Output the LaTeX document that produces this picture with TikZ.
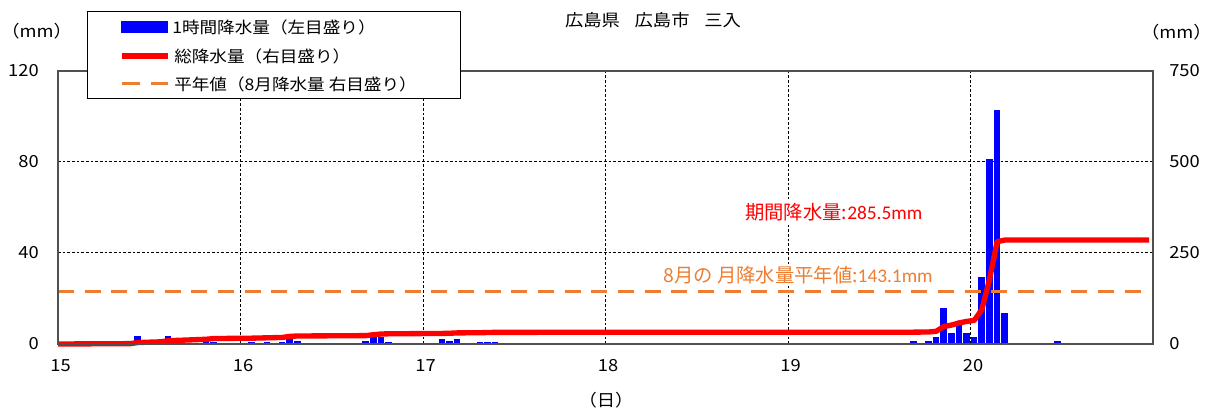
\documentclass[tikz,border=0pt]{standalone}
\usepackage{fontspec}
\setmainfont{Noto Sans CJK JP}[FakeStretch=1.1]
\newfontfamily\notefont{Noto Sans CJK JP}
\newfontfamily\numfont{Carlito}
\usetikzlibrary{positioning}

\definecolor{rainblue}{RGB}{0,0,255}
\definecolor{totalred}{RGB}{255,0,0}
\definecolor{normalorange}{RGB}{237,125,49}
\definecolor{axisgray}{RGB}{80,80,80}

\tikzset{
  gridline/.style={line width=0.75pt, dash pattern=on 2pt off 1.5pt},
  frameline/.style={axisgray, line width=1pt},
  rainbar/.style={fill=rainblue},
  totalline/.style={totalred, line width=4pt, line join=round},
  normalline/.style={normalorange, line width=2.25pt, dash pattern=on 12pt off 8pt},
  ticktext/.style={font=\fontsize{12.5}{14}\selectfont, inner sep=0pt},
  legtext/.style={font=\fontsize{12}{14}\selectfont, inner sep=0pt, anchor=west},
  notetext/.style={font=\notefont\fontsize{14.5}{16}\selectfont, fill=white, inner sep=1.5pt, anchor=west}
}

\begin{document}
\begin{tikzpicture}[x=0.75pt, y=0.75pt]
  \pgfmathsetmacro{\dayw}{182.5}
  \pgfmathsetmacro{\leftmm}{2.275}
  \pgfmathsetmacro{\rightmm}{0.364}

  \useasboundingbox (0,0) rectangle (1213,414);

  \coordinate (O) at (58,70);
  \coordinate (TL) at (58,343);
  \coordinate (BR) at (1153,70);
  \coordinate (TR) at (1153,343);

  % grid
  \foreach \d in {1,...,5}
    \draw[gridline] ({58+\d*\dayw},70) -- ({58+\d*\dayw},343);
  \foreach \v in {40,80}
    \draw[gridline] (58,{70+\v*\leftmm}) -- (1153,{70+\v*\leftmm});

  % hourly rain, left scale
  \begin{scope}[shift={(O)}, x=5.703pt, y=1.70625pt]
    \foreach \h/\v in {9/1, 10/3.5, 13/1.5, 14/3.5, 19/2.5, 20/1, 25/1, 27/1,
        29/1, 30/4.5, 31/1.5, 40/1.5, 41/3, 42/3, 43/1, 50/2, 51/1.5, 52/2,
        55/1, 56/1, 57/1, 112/1.5, 114/1.5, 115/3, 116/16, 117/5, 118/8.5,
        119/5, 120/3, 121/29.5, 122/81.5, 123/103, 124/13.5, 131/1.5}
      \fill[rainbar] (\h+0.04,0) rectangle (\h+0.9,\v);
  \end{scope}

  % totals, right scale
  \begin{scope}[shift={(O)}, x=5.703pt, y=0.273pt]
    \coordinate (n0) at (0,143.1);
    \coordinate (n1) at (143.1,143.1);
    \draw[normalline] (n0) -- (n1);
    \draw[totalline] plot coordinates {(0,0) (9.5,1) (10.5,4) (13.5,6)
      (14.5,9) (19.5,13) (20.5,15) (25.5,16) (27.5,17) (29.5,18) (30.5,21)
      (31.5,22) (40.5,23) (41.5,25.5) (42.5,27.5) (43.5,28) (50.5,29)
      (51.5,29.5) (52.5,30.5) (55.5,31) (56.5,31.5) (57.5,32) (112.5,32.5)
      (114.5,33) (115.5,35) (116.5,48) (117.5,52) (118.5,58) (119.5,62)
      (120.5,65) (121.5,95) (122.5,177) (123.5,281) (124.5,285.5)
      (143.5,285.5)};
  \end{scope}

  \draw[frameline] (TL) -- (O) -- (BR) -- (TR) -- cycle;

  % axis labels
  \foreach \v in {0,40,80,120}
    \node[ticktext, anchor=east] (yl\v) at (39,{70+\v*\leftmm}) {\v};
  \foreach \v in {0,250,500,750}
    \node[ticktext, anchor=west] (yr\v) at (1169,{70+\v*\rightmm}) {\v};
  \foreach \d in {15,...,20}
    \node[ticktext] (xl\d) at ({58+(\d-15)*\dayw+2.5},48) {\d};
  \node[ticktext, anchor=west] (yunitl) at (1,383) {（mm）};
  \node[ticktext, anchor=east] (yunitr) at (1212,382) {（mm）};
  \node[ticktext] (xunit) at (606,14) {（日）};
  \node[ticktext] (title) at (653,394) {広島県\hspace{11pt}広島市\hspace{11pt}三入};

  % notes
  \node[notetext, text=totalred] (totalnote) at (743,202)
    {期間降水量:{\numfont 285.5mm}};
  \node[notetext, text=normalorange] (normalnote) at (661,139)
    {8月の 月降水量平年値:{\numfont 143.1mm}};

  % legend
  \node[draw, fill=white, line width=0.75pt, anchor=south west, inner sep=0pt,
    minimum width=279.75pt, minimum height=65.25pt] (legend) at (87,315) {};
  \fill[rainbar] (121,381) rectangle (168,393);
  \draw[totalred, line width=4pt] (122,358) -- (168,358);
  \draw[normalorange, line width=2.25pt] (122,330) -- (140,330);
  \draw[normalorange, line width=2.25pt] (151,330) -- (168,330);
  \node[legtext] (legrain) at (172,387) {1時間降水量（左目盛り）};
  \node[legtext] (legtotal) at (174,358) {総降水量（右目盛り）};
  \node[legtext] (legnormal) at (174,330) {平年値（8月降水量 右目盛り）};
\end{tikzpicture}
\end{document}
